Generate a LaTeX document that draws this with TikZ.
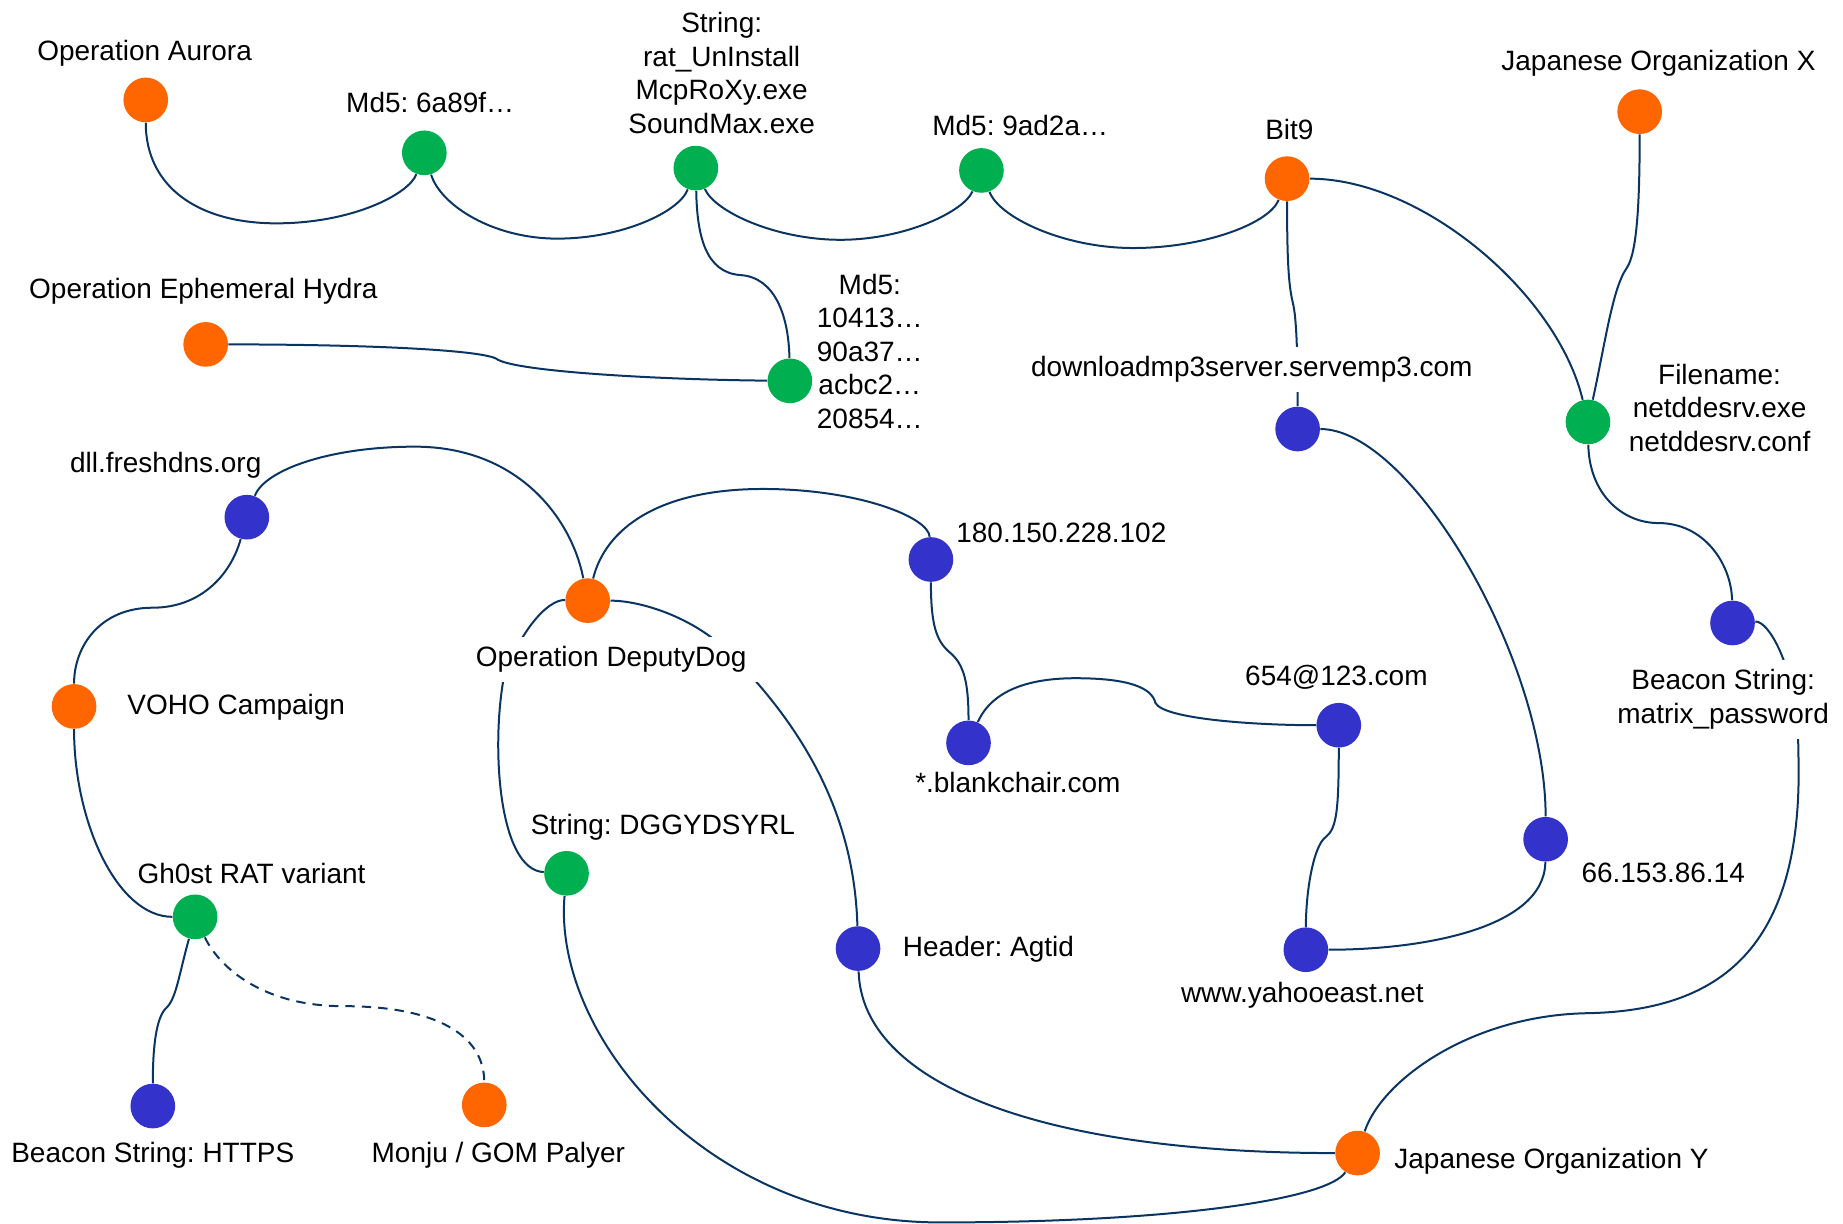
\documentclass[tikz,border=0pt]{standalone}
\usepackage{fontspec}
\setmainfont{Liberation Sans}
\usetikzlibrary{backgrounds}
\definecolor{opcol}{HTML}{FF6600}
\definecolor{hashcol}{HTML}{00B050}
\definecolor{netcol}{HTML}{3333CC}
\definecolor{linkcol}{HTML}{0A3461}
\frenchspacing
\begin{document}
\begin{tikzpicture}[x=0.5pt, y=-0.5pt,
    dot/.style={circle, minimum size=19pt, inner sep=0pt},
    op/.style={dot, fill=opcol},
    ioc/.style={dot, fill=hashcol},
    host/.style={dot, fill=netcol},
    lbl/.style={fill=white, inner sep=1pt, align=center, font=\fontsize{11.9}{14.25}\selectfont},
    cut/.style={lbl, inner xsep=6pt, inner ysep=4pt},
    link/.style={draw=linkcol, line width=0.85pt}]
    \useasboundingbox (0,0) rectangle (1568,1041);

    % labels
    \node[lbl] (aurora-t) at (123,45) {Operation Aurora};
    \node[lbl] (md5a-t) at (366,87) {Md5: 6a89f…};
    \node[lbl] (str-t) at (614,62) {String:\\rat\_UnInstall\\McpRoXy.exe\\SoundMax.exe};
    \node[lbl] (md5b-t) at (868,107) {Md5: 9ad2a…};
    \node[lbl] (bit9-t) at (1097,110) {Bit9};
    \node[lbl] (japx-t) at (1411,54) {Japanese Organization X};
    \node[lbl] (hydra-t) at (173,248) {Operation Ephemeral Hydra};
    \node[lbl] (md5c-t) at (740,299) {Md5:\\10413…\\90a37…\\acbc2…\\20854…};
    \node[cut] (dl-t) at (1065,314) {downloadmp3server.servemp3.com};
    \node[lbl] (fname-t) at (1463,347) {Filename:\\netddesrv.exe\\netddesrv.conf};
    \node[lbl] (dll-t) at (141,396) {dll.freshdns.org};
    \node[cut] (dd-t) at (520,561) {Operation DeputyDog};
    \node[lbl] (ip180-t) at (903,453) {180.150.228.102};
    \node[cut] (beacon-t) at (1466,595) {Beacon String:\\matrix\_password};
    \node[lbl] (voho-t) at (201,602) {VOHO Campaign};
    \node[lbl] (mail-t) at (1137,576) {654@123.com};
    \node[lbl] (blank-t) at (866,666) {*.blankchair.com};
    \node[lbl] (dggy-t) at (564,704) {String: DGGYDSYRL};
    \node[lbl] (ip66-t) at (1415,743) {66.153.86.14};
    \node[lbl] (gh0st-t) at (214,743) {Gh0st RAT variant};
    \node[lbl] (agtid-t) at (841,808) {Header: Agtid};
    \node[lbl] (yahoo-t) at (1108,847) {www.yahooeast.net};
    \node[lbl] (https-t) at (130,983) {Beacon String: HTTPS};
    \node[lbl] (monju-t) at (424,983) {Monju / GOM Palyer};
    \node[lbl] (japy-t) at (1320,988) {Japanese Organization Y};

    % entities
    \node[op] (aurora) at (124,85) {};
    \node[ioc] (md5a) at (361,130) {};
    \node[ioc] (str) at (592,143) {};
    \node[ioc] (md5b) at (835,145) {};
    \node[op] (bit9) at (1095,152) {};
    \node[op] (japx) at (1395,95) {};
    \node[op] (hydra) at (175,293) {};
    \node[ioc] (md5c) at (672,324) {};
    \node[host] (dl) at (1104,365) {};
    \node[ioc] (fname) at (1351,359) {};
    \node[host] (dll) at (210,440) {};
    \node[op] (dd) at (500,511) {};
    \node[host] (ip180) at (792,476) {};
    \node[host] (beacon) at (1474,530) {};
    \node[op] (voho) at (63,601) {};
    \node[host] (mail) at (1139,617) {};
    \node[host] (blank) at (824,632) {};
    \node[ioc] (dggy) at (482,743) {};
    \node[host] (ip66) at (1315,714) {};
    \node[ioc] (gh0st) at (166,780) {};
    \node[host] (agtid) at (730,807) {};
    \node[host] (yahoo) at (1111,808) {};
    \node[host] (https) at (130,941) {};
    \node[op] (monju) at (412,940) {};
    \node[op] (japy) at (1155,981) {};

    % links
    \begin{scope}[on background layer={link}]
        \draw (aurora) .. controls (124,160) and (170,190) .. (235,190) .. controls (300,190) and (348,165) .. (md5a);
        \draw (md5a) .. controls (375,175) and (420,203) .. (474,203) .. controls (530,203) and (578,180) .. (str);
        \draw (str) .. controls (608,180) and (660,204) .. (715,204) .. controls (770,204) and (820,180) .. (md5b);
        \draw (md5b) .. controls (850,185) and (905,211) .. (964,211) .. controls (1025,211) and (1080,190) .. (bit9);
        \draw (str) .. controls (593,200) and (600,232) .. (630,234) .. controls (660,236) and (671,270) .. (md5c);
        \draw (hydra) .. controls (300,293) and (405,297) .. (422,305) .. controls (435,316) and (560,323) .. (md5c);
        \draw (bit9) .. controls (1095,230) and (1097,245) .. (1100,258) .. controls (1103,270) and (1104,300) .. (dl);
        \draw (bit9) .. controls (1210,152) and (1325,250) .. (fname);
        \draw (japx) .. controls (1395,170) and (1393,215) .. (1384,228) .. controls (1372,245) and (1366,290) .. (fname);
        \draw (fname) .. controls (1352,420) and (1380,445) .. (1411,445) .. controls (1450,445) and (1473,480) .. (beacon);
        \draw (beacon) .. controls (1505,528) and (1530,570) .. (1530,640) .. controls (1535,800) and (1470,860) .. (1350,862) .. controls (1250,864) and (1175,920) .. (japy);
        \draw (dl) .. controls (1200,365) and (1315,560) .. (ip66);
        \draw (dll) .. controls (225,400) and (280,380) .. (353,380) .. controls (440,380) and (486,440) .. (dd);
        \draw (dll) .. controls (196,490) and (170,517) .. (130,517) .. controls (85,517) and (63,550) .. (voho);
        \draw (voho) .. controls (63,700) and (100,780) .. (gh0st);
        \draw (dd) .. controls (515,450) and (560,416) .. (649,416) .. controls (730,416) and (790,440) .. (ip180);
        \draw (dd) .. controls (465,510) and (440,540) .. (428,580) .. controls (418,640) and (425,740) .. (dggy);
        \draw (dd) .. controls (545,511) and (590,525) .. (620,555) .. controls (690,625) and (727,700) .. (agtid);
        \draw (ip180) .. controls (792,530) and (796,545) .. (808,555) .. controls (820,565) and (824,580) .. (blank);
        \draw (blank) .. controls (845,585) and (880,577) .. (915,577) .. controls (960,577) and (980,585) .. (983,598) .. controls (990,612) and (1070,617) .. (mail);
        \draw (mail) .. controls (1139,690) and (1137,705) .. (1128,712) .. controls (1117,720) and (1111,760) .. (yahoo);
        \draw (yahoo) .. controls (1210,808) and (1314,790) .. (ip66);
        \draw (gh0st) .. controls (152,830) and (150,850) .. (141,858) .. controls (133,866) and (130,890) .. (https);
        \draw[dash pattern=on 4pt off 3pt] (gh0st) .. controls (185,820) and (220,856) .. (292,856) .. controls (370,856) and (412,880) .. (monju);
        \draw (dggy) .. controls (470,880) and (600,1040) .. (800,1040) .. controls (1000,1040) and (1130,1020) .. (japy);
        \draw (agtid) .. controls (733,920) and (880,981) .. (japy);
    \end{scope}
\end{tikzpicture}
\end{document}
